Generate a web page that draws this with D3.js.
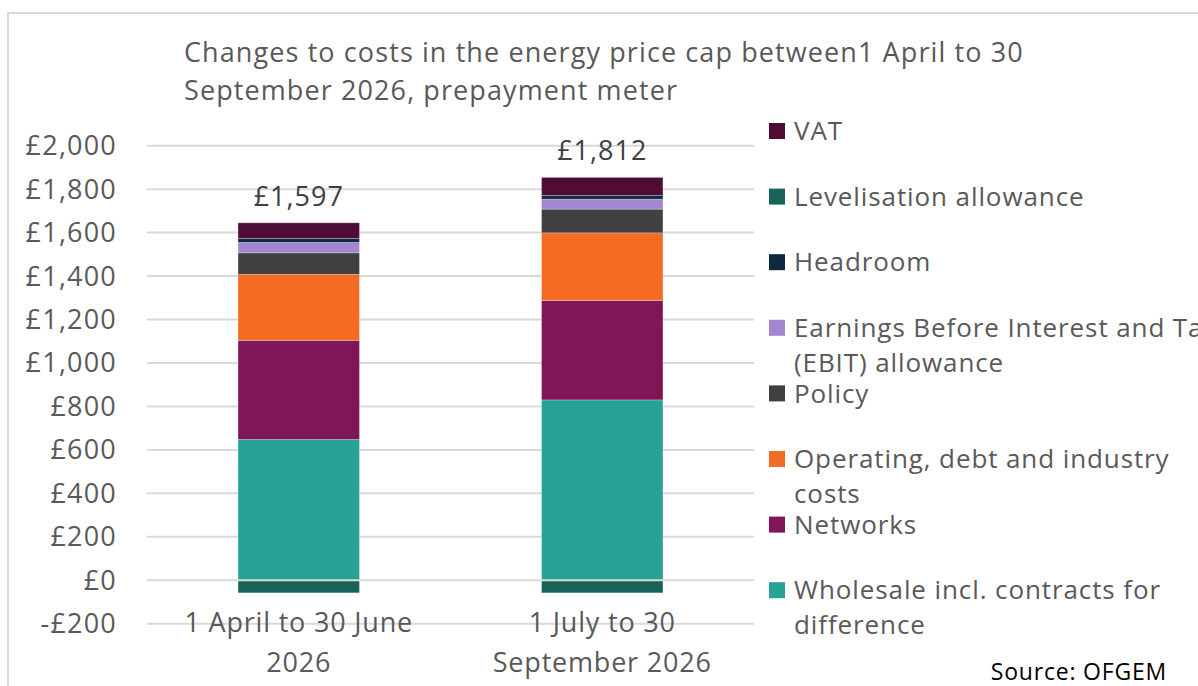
<!DOCTYPE html>
<html>
<head>
<meta charset="utf-8">
<script src="https://cdn.jsdelivr.net/npm/d3@7"></script>
<style>
  html, body { margin: 0; padding: 0; background: #fff; }
  svg { display: block; font-family: "Open Sans", "Liberation Sans", sans-serif; }
</style>
</head>
<body>
<svg id="chart" width="1198" height="686"></svg>
<script>
// ---- Data ----
const categories = [["1 April to 30 June", "2026"], ["1 July to 30", "September 2026"]];
const totalLabels = ["£1,597", "£1,812"];

const wholesale    = [648, 830];
const networks     = [456, 458];
const operating    = [304, 311];
const policy       = [99, 109];
const ebit         = [48, 46];
const headroom     = [18, 17];
const levelisation = [-58, -58];
const vat          = [72, 83];

const seriesKeys = ["wholesale", "networks", "operating", "policy", "ebit", "headroom", "levelisation", "vat"];
const seriesValues = { wholesale, networks, operating, policy, ebit, headroom, levelisation, vat };
const seriesNames = {
  wholesale: ["Wholesale incl. contracts for", "difference"],
  networks: ["Networks"],
  operating: ["Operating, debt and industry", "costs"],
  policy: ["Policy"],
  ebit: ["Earnings Before Interest and Tax", "(EBIT) allowance"],
  headroom: ["Headroom"],
  levelisation: ["Levelisation allowance"],
  vat: ["VAT"]
};
const colors = {
  wholesale: "#27a296", networks: "#7f1657", operating: "#f46b24", policy: "#404040",
  ebit: "#a386d1", headroom: "#0d2a40", levelisation: "#1a6358", vat: "#4f0c35"
};
const legendOrder = ["vat", "levelisation", "headroom", "ebit", "policy", "operating", "networks", "wholesale"];
const yTicks = [-200, 0, 200, 400, 600, 800, 1000, 1200, 1400, 1600, 1800, 2000];

// ---- Build table ----
const table = categories.map((c, i) => {
  const row = { idx: i };
  seriesKeys.forEach(k => row[k] = seriesValues[k][i]);
  return row;
});

const svg = d3.select("#chart");
const textCol = "#595959";

// chart border
svg.append("rect").attr("x", 8).attr("y", 13).attr("width", 1250).attr("height", 720)
  .attr("fill", "none").attr("stroke", "#d9d9d9").attr("stroke-width", 2);

const x = d3.scaleBand().domain(table.map(d => d.idx)).range([147, 754])
  .paddingInner(0.6).paddingOuter(0.3);
const y = d3.scaleLinear().domain([-200, 2000]).range([623.7, 145.7]);

// gridlines
svg.append("g").selectAll("line").data(yTicks.filter(t => t !== 0)).join("line")
  .attr("x1", 147).attr("x2", 754).attr("y1", d => y(d)).attr("y2", d => y(d))
  .attr("stroke", "#d9d9d9").attr("stroke-width", 2);

// y tick labels
svg.append("g").selectAll("text").data(yTicks).join("text")
  .attr("x", 117).attr("y", d => y(d)).attr("dy", "0.35em")
  .attr("text-anchor", "end").attr("fill", textCol).attr("font-size", 27)
  .attr("letter-spacing", 1.2)
  .text(d => (d < 0 ? "-£" : "£") + d3.format(",")(Math.abs(d)));

// stacked bars
const stack = d3.stack().keys(seriesKeys).offset(d3.stackOffsetDiverging);
const stacked = stack(table);
svg.append("g").selectAll("g").data(stacked).join("g")
  .attr("fill", d => colors[d.key])
  .selectAll("rect").data(d => d).join("rect")
  .attr("x", d => x(d.data.idx))
  .attr("width", x.bandwidth())
  .attr("y", d => y(Math.max(d[0], d[1])))
  .attr("height", d => Math.abs(y(d[0]) - y(d[1])))
  .attr("stroke", "rgba(255,255,255,0.3)").attr("stroke-width", 0.8);

// zero axis line on top
svg.append("line").attr("x1", 147).attr("x2", 754).attr("y1", y(0)).attr("y2", y(0))
  .attr("stroke", "#d9d9d9").attr("stroke-width", 2);

// total labels
const tops = table.map(d => seriesKeys.reduce((s, k) => s + Math.max(0, d[k]), 0));
svg.append("g").selectAll("text").data(table).join("text")
  .attr("x", d => x(d.idx) + x.bandwidth() / 2)
  .attr("y", (d, i) => y(tops[i]) - 17)
  .attr("text-anchor", "middle").attr("fill", "#404040").attr("font-size", 27)
  .attr("letter-spacing", 1)
  .text((d, i) => totalLabels[i]);

// x labels
const xl = svg.append("g").selectAll("text").data(table).join("text")
  .attr("text-anchor", "middle").attr("fill", textCol).attr("font-size", 27)
  .attr("letter-spacing", 0.8);
xl.each(function(d) {
  const t = d3.select(this);
  categories[d.idx].forEach((line, j) => {
    t.append("tspan").attr("x", x(d.idx) + x.bandwidth() / 2).attr("y", 632 + j * 40).text(line);
  });
});

// title
const title = svg.append("text").attr("fill", textCol).attr("font-size", 27)
  .attr("letter-spacing", 1.1);
["Changes to costs in the energy price cap between1 April to 30", "September 2026, prepayment meter"]
  .forEach((l, j) => title.append("tspan").attr("x", 184).attr("y", 62 + j * 38).text(l));

// legend
const legendY0 = 131, legendStep = 65.6;
const lg = svg.append("g").selectAll("g").data(legendOrder).join("g")
  .attr("transform", (d, i) => `translate(769,${legendY0 + i * legendStep})`);
lg.append("rect").attr("x", 0).attr("y", -8).attr("width", 16).attr("height", 16)
  .attr("fill", d => colors[d]);
lg.append("text").attr("fill", textCol).attr("font-size", 26).attr("letter-spacing", 0.9)
  .each(function(d) {
    const t = d3.select(this);
    seriesNames[d].forEach((line, j) => {
      t.append("tspan").attr("x", 25).attr("y", j * 35).attr("dy", "0.35em").text(line);
    });
  });

// source
svg.append("text").attr("x", 1167).attr("y", 680).attr("text-anchor", "end")
  .attr("fill", "#000").attr("font-size", 23).attr("letter-spacing", 0.8).text("Source: OFGEM");
</script>
</body>
</html>
